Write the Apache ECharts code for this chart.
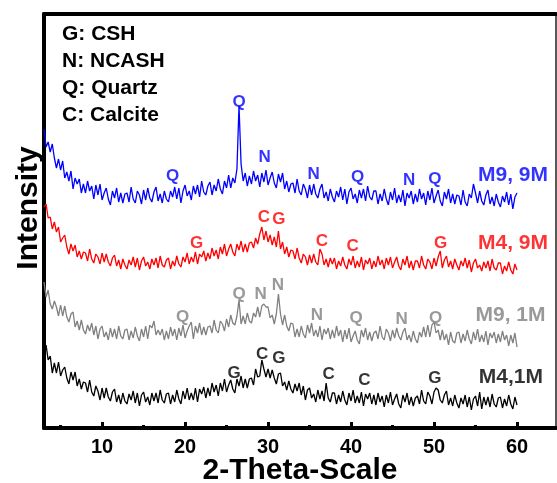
<!DOCTYPE html>
<html><head><meta charset="utf-8">
<script src="https://cdn.jsdelivr.net/npm/echarts@6/dist/echarts.min.js"></script>
<style>html,body{margin:0;padding:0;background:#fff}#c{width:557px;height:483px}</style>
</head><body><div id="c"></div>
<script>
// scan grid (2-theta, degrees)
const thetaStart = 3, thetaStep = 0.25;

// intensities (arbitrary units, stacked traces)
const m9_9M = [
299,281,286,276,284,270,260,269,258,267,250,256,247,257,239,250,244,249,235,244,
235,247,237,242,229,243,233,244,228,235,240,229,223,237,230,240,226,235,225,234,
235,226,241,229,225,237,233,224,238,228,240,230,226,236,241,227,234,225,237,229,
226,237,231,241,229,240,225,237,243,232,237,228,242,234,243,231,247,236,233,242,
246,233,243,237,249,239,234,247,240,253,240,250,245,259,322,264,247,255,242,252,
244,257,247,253,241,255,246,258,243,250,256,245,240,254,246,255,239,247,236,244,
245,235,249,237,233,244,239,230,243,233,244,234,230,239,244,230,236,227,239,231,
226,237,231,241,228,239,224,236,240,229,234,225,238,230,239,227,242,231,228,237,
237,224,234,227,239,229,223,236,228,240,225,233,226,238,222,235,230,237,224,234,
226,239,229,235,223,237,228,240,225,232,238,227,222,236,229,239,225,234,224,233,
232,223,238,226,222,234,230,244,235,225,237,227,223,233,238,224,231,222,234,226,
221,232,226,236,223,234,219,231,235];
const m4_9M = [
221,224,210,211,199,206,196,201,186,190,193,181,174,184,177,183,171,177,169,176,
175,167,179,169,165,174,171,164,175,166,174,166,162,170,173,162,168,159,169,163,
159,168,163,171,161,170,158,167,171,162,166,159,169,163,170,160,172,163,161,168,
170,159,167,162,172,164,161,171,166,175,164,171,166,176,164,174,171,177,167,175,
169,180,172,178,169,181,174,184,172,179,184,176,172,184,178,187,176,184,176,185,
186,180,190,184,194,201,188,197,186,193,183,191,181,197,179,186,174,181,171,178,
177,169,180,170,165,174,171,163,173,165,174,166,163,179,174,163,169,161,170,164,
170,159,167,162,171,163,159,169,163,172,160,167,161,171,158,168,164,170,159,167,
161,172,163,168,159,170,163,171,160,166,171,162,158,169,163,172,160,167,158,167,
167,160,172,163,159,169,166,159,170,162,171,177,160,168,172,161,167,159,169,163,
158,167,162,170,160,168,156,165,169,160,163,157,166,160,167,157,169,160,158,165,
165,154,162,157,166,158,154,164,158];
const m9_1M = [
146,131,138,124,119,127,121,112,123,112,122,111,106,114,116,101,107,98,108,98,
94,103,97,105,93,102,89,99,102,91,96,88,100,91,99,89,102,92,89,98,
99,88,97,90,101,92,87,99,91,102,89,103,100,107,93,98,93,99,88,97,
89,101,92,99,88,100,92,103,90,97,102,106,89,102,95,105,93,101,93,101,
102,95,108,98,95,107,104,97,109,101,113,105,103,112,128,104,112,104,115,107,
105,115,111,121,111,122,124,121,121,110,113,104,114,134,114,103,113,102,97,105,
104,91,99,91,102,94,90,103,95,105,92,98,91,102,88,99,94,100,89,98,
90,102,92,98,86,98,89,100,86,92,97,88,84,98,91,100,88,96,87,95,
97,89,102,91,88,99,95,87,98,90,100,92,88,96,100,88,93,86,97,89,
85,96,91,101,91,103,91,103,106,95,98,88,98,88,94,83,96,87,85,95,
96,85,94,87,98,89,84,96,88,99,86,93,86,97,83,95,90,96,85,94,
86,97,88,93,82,93,85,95,81];
const m4_1M = [
68,83,68,72,55,65,55,66,52,58,61,50,44,56,48,56,42,49,39,46,
45,36,48,36,32,42,37,28,40,30,40,31,27,36,39,26,33,24,35,27,
24,34,28,37,25,35,22,33,36,26,31,23,35,27,35,25,38,28,25,34,
35,24,33,26,38,29,24,37,29,40,28,35,28,40,26,39,34,41,30,40,
32,45,36,43,32,45,37,49,36,43,48,39,35,49,42,52,40,49,40,49,
50,43,59,51,52,68,59,51,59,50,58,50,44,54,55,42,46,38,47,39,
35,44,37,45,33,42,28,38,40,30,34,26,38,29,37,27,45,30,26,35,
35,24,33,26,37,28,23,35,27,38,25,32,25,36,22,34,29,35,24,33,
23,35,26,32,21,33,25,36,23,29,34,24,20,33,26,35,23,31,22,30,
32,24,38,27,24,36,32,24,36,40,38,28,25,33,37,23,30,22,33,25,
20,30,24,33,21,31,18,29,32,22,36,19,31,23,31,21,34,24,21,30,
31,20,29,22,33,24,19,31,23];

const xTickLabels = [10, 20, 30, 40, 50, 60];
const xMinorTicks = [5, 15, 25, 35, 45, 55];
const legendLines = ['G: CSH', 'N: NCASH', 'Q: Quartz', 'C: Calcite'];
const seriesNames = ['M9, 9M', 'M4, 9M', 'M9, 1M', 'M4,1M'];
const seriesColors = ['#0000ff', '#ff0000', '#808080', '#000000'];
const seriesNamePos = [[55.3, 253], [55.3, 185], [55.0, 113], [55.4, 51]];

// phase marks: [letter, 2-theta, intensity]
const peaks_m9_9M = [['Q',18.5,252],['Q',26.5,326],['N',29.6,271],['N',35.5,254],['Q',40.8,251],['N',47.0,248],['Q',50.1,249]];
const peaks_m4_9M = [['G',21.4,185],['C',29.5,211],['G',31.3,209],['C',36.5,187],['C',40.2,182],['G',50.8,185]];
const peaks_m9_1M = [['Q',19.7,111],['Q',26.5,134],['N',29.1,134],['N',31.2,143],['N',35.9,113],['Q',40.6,110],['N',46.1,109],['Q',50.2,110]];
const peaks_m4_1M = [['G',25.9,55],['C',29.3,74],['G',31.3,70],['C',37.3,54],['C',41.6,48],['G',50.1,50]];

const FONT = '"Liberation Sans", Arial, sans-serif';
const traces = [m9_9M, m4_9M, m9_1M, m4_1M];
const peakSets = [peaks_m9_9M, peaks_m4_9M, peaks_m9_1M, peaks_m4_1M];

function toPairs(arr) { return arr.map((v, i) => [thetaStart + i * thetaStep, v]); }

const series = [];
traces.forEach((t, k) => {
  series.push({
    type: 'line', name: seriesNames[k], data: toPairs(t), showSymbol: false, symbol: 'none',
    lineStyle: { color: seriesColors[k], width: 1.3 }, animation: false, silent: true, z: 3
  });
});
peakSets.forEach((ps, k) => {
  series.push({
    type: 'scatter', data: ps.map(p => ({ name: p[0], value: [p[1], p[2]] })),
    symbolSize: 0, silent: true, animation: false, z: 5,
    label: { show: true, position: 'inside', formatter: '{b}', color: seriesColors[k],
      fontSize: 17, fontWeight: 'bold', fontFamily: FONT }
  });
});
series.push({
  type: 'scatter', data: seriesNames.map((n, k) => ({ name: n, value: seriesNamePos[k],
    label: { color: seriesColors[k] } })),
  symbolSize: 0, silent: true, animation: false, z: 5,
  label: { show: true, position: 'inside', align: 'left', formatter: '{b}',
    fontSize: 21, fontWeight: 'bold', fontFamily: FONT }
});

const chart = echarts.init(document.getElementById('c'), null, { renderer: 'canvas' });
chart.setOption({
  animation: false,
  backgroundColor: '#fff',
  grid: { left: 44, right: 1, top: 14, bottom: 55, containLabel: false, outerBoundsMode: 'none' },
  xAxis: [
    { type: 'value', position: 'bottom', min: 3, max: 64.7,
      name: '2-Theta-Scale', nameLocation: 'middle', nameGap: 28, nameMoveOverlap: false,
      nameTextStyle: { fontSize: 30, fontWeight: 'bold', fontFamily: FONT, color: '#000' },
      axisLine: { show: true, lineStyle: { color: '#000', width: 4 } },
      axisTick: { show: true, inside: true, length: 6, lineStyle: { color: '#000', width: 3 }, customValues: xTickLabels },
      axisLabel: { show: true, customValues: xTickLabels, margin: 9, fontSize: 20, fontWeight: 'bold', fontFamily: FONT, color: '#000' },
      splitLine: { show: false } },
    { type: 'value', position: 'bottom', min: 3, max: 64.7, offset: 0,
      axisLine: { show: false },
      axisTick: { show: true, inside: true, length: 3, lineStyle: { color: '#000', width: 3 }, customValues: xMinorTicks },
      axisLabel: { show: false }, splitLine: { show: false } },
    { type: 'value', position: 'top', min: 3, max: 64.7,
      axisLine: { show: true, lineStyle: { color: '#000', width: 4 } },
      axisTick: { show: false }, axisLabel: { show: false }, splitLine: { show: false } }
  ],
  yAxis: [
    { type: 'value', position: 'left', min: 0, max: 414,
      name: 'Intensity', nameLocation: 'middle', nameGap: 0,
      nameTextStyle: { fontSize: 30, fontWeight: 'bold', fontFamily: FONT, color: '#000', padding: [0, 0, 0, 26] },
      axisLine: { show: true, lineStyle: { color: '#000', width: 4 } },
      axisTick: { show: false }, axisLabel: { show: false }, splitLine: { show: false } },
    { type: 'value', position: 'right', min: 0, max: 414,
      axisLine: { show: true, lineStyle: { color: '#222', width: 1.5 } },
      axisTick: { show: false }, axisLabel: { show: false }, splitLine: { show: false } }
  ],
  graphic: legendLines.map((t, i) => ({
    type: 'text', x: 62, y: [34, 61, 88, 115][i], silent: true,
    style: { text: t, fontSize: 21, fontWeight: 'bold', fontFamily: FONT, fill: '#000',
      align: 'left', verticalAlign: 'middle' }
  })),
  series: series
});
</script></body></html>
